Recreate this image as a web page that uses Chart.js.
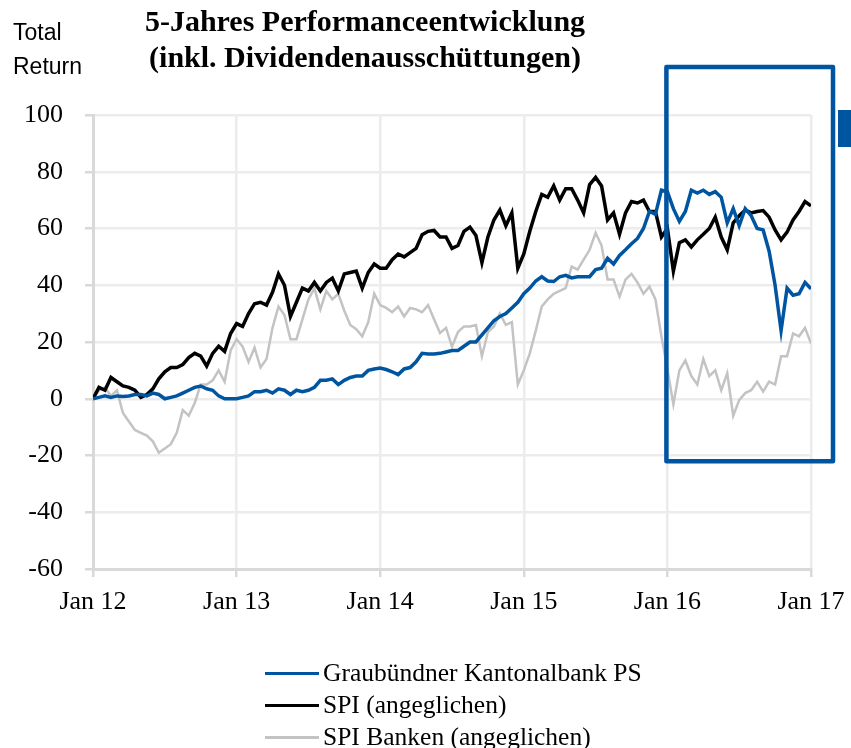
<!DOCTYPE html>
<html>
<head>
<meta charset="utf-8">
<script src="https://cdn.jsdelivr.net/npm/chart.js@4.4.1/dist/chart.umd.min.js"></script>
<style>
  body { margin: 0; background: #fff; }
  #wrap { position: relative; width: 851px; height: 748px; overflow: hidden; }
  #title {
    position: absolute; left: 65px; width: 600px; top: 3px;
    text-align: center; font: bold 30px "Liberation Serif", serif; line-height: 36px; color: #000;
  }
  #unit {
    position: absolute; left: 13px; top: 15px;
    font: 23px "Liberation Sans", sans-serif; line-height: 34px; color: #000;
  }
  #legend { position: absolute; left: 265px; top: 657px; }
  .row { display: flex; align-items: center; height: 32px; font: 25.5px "Liberation Serif", serif; color: #000; }
  .sym { width: 54px; height: 3px; margin-right: 4px; }
</style>
</head>
<body>
<div id="wrap">
  <canvas id="chart" width="851" height="748"></canvas>
  <div id="unit">Total<br>Return</div>
  <div id="title">5-Jahres Performanceentwicklung<br>(inkl. Dividendenausschüttungen)</div>
  <div id="legend"></div>
</div>
<script>
// half-month steps from Jan 12 (0) to Jan 17 (120)
const xTickLabels = ["Jan 12", "Jan 13", "Jan 14", "Jan 15", "Jan 16", "Jan 17"];
const seriesNames = ["Graubündner Kantonalbank PS", "SPI (angeglichen)", "SPI Banken (angeglichen)"];

const gkb = [
  0, 0.5, 1, 0.5, 1, 0.8, 1, 1.5, 1.5, 1,
  2, 1.5, 0, 0.5, 1, 2, 3, 4, 4.5, 3.5,
  3, 1, 0, 0, 0, 0.5, 1, 2.5, 2.5, 3,
  2, 3.5, 3, 1.5, 3, 2.5, 3, 4, 6.5, 6.5,
  7, 5, 6.5, 7.5, 8, 8, 10, 10.5, 10.8, 10.3,
  9.5, 8.5, 10.5, 11, 13, 16, 15.8, 15.8, 16, 16.5,
  17, 17, 18.5, 20, 20, 22.5, 25, 27.5, 29, 30,
  32, 34, 37, 39, 41.5, 43, 41.5, 41.3, 43, 43.5,
  42.6, 43, 43, 43, 45.5, 46, 49.5, 47.5, 50.5, 52.5,
  54.6, 56.5, 60, 66, 65, 73.5, 73, 67, 62.5, 66,
  73.5, 72.5, 73.5, 72, 73, 71, 62, 67, 61, 67,
  64.5, 60, 59.5, 52, 40, 24, 39, 36.5, 37, 41,
  38.7
];

const spi = [
  0, 4, 3, 7.5, 6, 4.5, 4, 3, 0.5, 1.5,
  3.5, 7, 9.5, 11, 11, 12, 14.5, 16, 15, 11.5,
  16, 18.5, 16.7, 23, 26.5, 25.5, 30, 33.5, 34, 33,
  37.5, 44, 40, 29, 34, 39, 38, 41, 38, 41,
  42.5, 38, 44, 44.5, 45, 39, 44.5, 47.5, 46, 46,
  49, 51, 50, 51.5, 53, 57.8, 59, 59.3, 57, 57,
  53, 54, 59, 60.5, 57.5, 48, 57, 63, 66.5, 61,
  65.5, 46, 51, 59, 66, 72, 71, 75, 70, 74,
  74, 70, 65.5, 75.5, 78, 75, 63, 65.5, 58, 65.5,
  69.5, 69, 70, 66, 66, 57, 60, 45, 55, 56,
  53.5, 56, 58, 60, 64, 57, 52.5, 62, 64.5, 66.5,
  65.5, 66, 66.3, 64, 59.5, 56, 58.7, 63, 66, 69.5,
  68
];

const spiBanken = [
  0, 3, 4, 1, 3, -5, -8, -11, -12, -13,
  -15, -19, -17.5, -16, -12, -4, -6, -1.5, 5, 5,
  6.5, 10, 6, 17, 21, 18.4, 13, 18, 11, 14,
  25, 32.5, 29.5, 21, 21, 28, 35, 39, 31.5, 38,
  35, 37, 31, 26, 24.5, 22, 27, 37, 33, 32,
  30.5, 32.5, 29, 32, 31.5, 30.5, 33, 28, 23.2, 25,
  18.4, 23.5, 25.5, 25.5, 26, 15, 23.5, 25.5, 30, 26,
  27, 5, 10, 16, 24, 32.5, 35, 37, 38, 39,
  46.6, 45.5, 49, 52.5, 58.5, 54, 42, 42, 36, 42,
  44, 41, 37, 39.5, 35, 22, 10.5, -2, 10, 13.5,
  8, 5, 14, 8, 10, 3, 9, -6, -0.5, 2,
  3, 6, 2.5, 6, 5, 15, 15, 23, 22, 25,
  19.5
];

const colors = ["#0055a1", "#000000", "#c3c3c3"];
const widths = [3.5, 3.5, 2.5];

const toPoints = (arr) => arr.map((v, i) => ({ x: i, y: v }));

// box around the 2016 period
const highlightBox = {
  id: "highlightBox",
  afterDraw(chart) {
    const { ctx, chartArea, scales } = chart;
    const left = scales.x.getPixelForValue(96) - 1;
    const right = chartArea.right + 22;
    const top = chartArea.top - 48;
    const bottom = scales.y.getPixelForValue(-22);
    ctx.save();
    ctx.strokeStyle = "#0055a1";
    ctx.lineWidth = 4.5;
    ctx.lineJoin = "round";
    ctx.strokeRect(left, top, right - left, bottom - top);
    ctx.fillStyle = "#0055a1";
    ctx.fillRect(chartArea.right + 27, chartArea.top - 5, 20, 37);
    ctx.restore();
  },
};

const chart = new Chart(document.getElementById("chart"), {
  type: "line",
  data: {
    datasets: [gkb, spi, spiBanken].map((arr, k) => ({
      label: seriesNames[k],
      data: toPoints(arr),
      borderColor: colors[k],
      backgroundColor: colors[k],
      borderWidth: widths[k],
      pointRadius: 0,
      tension: 0,
    })),
  },
  options: {
    responsive: false,
    animation: false,
    events: [],
    layout: { padding: { top: 115, right: 40, left: 0, bottom: 0 } },
    plugins: { legend: { display: false }, tooltip: { enabled: false } },
    scales: {
      x: {
        type: "linear",
        min: 0,
        max: 120,
        afterBuildTicks: (scale) => {
          scale.ticks = xTickLabels.map((_, i) => ({ value: i * 24 }));
        },
        afterFit: (scale) => {
          scale.height = 179;
          scale.paddingLeft = 0;
          scale.paddingRight = 0;
        },
        ticks: {
          padding: 10,
          maxRotation: 0,
          autoSkip: false,
          color: "#000",
          font: { family: "Liberation Serif", size: 26 },
          callback: (v) => xTickLabels[Math.round(v / 24)],
        },
        grid: { color: "#ececec", lineWidth: 2.5, tickLength: 8, tickColor: "#d9d9d9", tickWidth: 2.5 },
        border: { color: "#d9d9d9", width: 3 },
      },
      y: {
        min: -60,
        max: 100,
        afterFit: (scale) => { scale.width = 93; },
        ticks: {
          stepSize: 20,
          padding: 22,
          color: "#000",
          font: { family: "Liberation Serif", size: 26 },
        },
        grid: { color: "#ececec", lineWidth: 2.5, tickLength: 8, tickColor: "#d9d9d9", tickWidth: 2.5 },
        border: { color: "#d9d9d9", width: 3 },
      },
    },
  },
  plugins: [highlightBox],
});

// legend below the chart, one entry per row
const legend = document.getElementById("legend");
chart.data.datasets.forEach((ds) => {
  const row = document.createElement("div");
  row.className = "row";
  const sym = document.createElement("span");
  sym.className = "sym";
  sym.style.background = ds.borderColor;
  const txt = document.createElement("span");
  txt.textContent = ds.label;
  row.appendChild(sym);
  row.appendChild(txt);
  legend.appendChild(row);
});
</script>
</body>
</html>
